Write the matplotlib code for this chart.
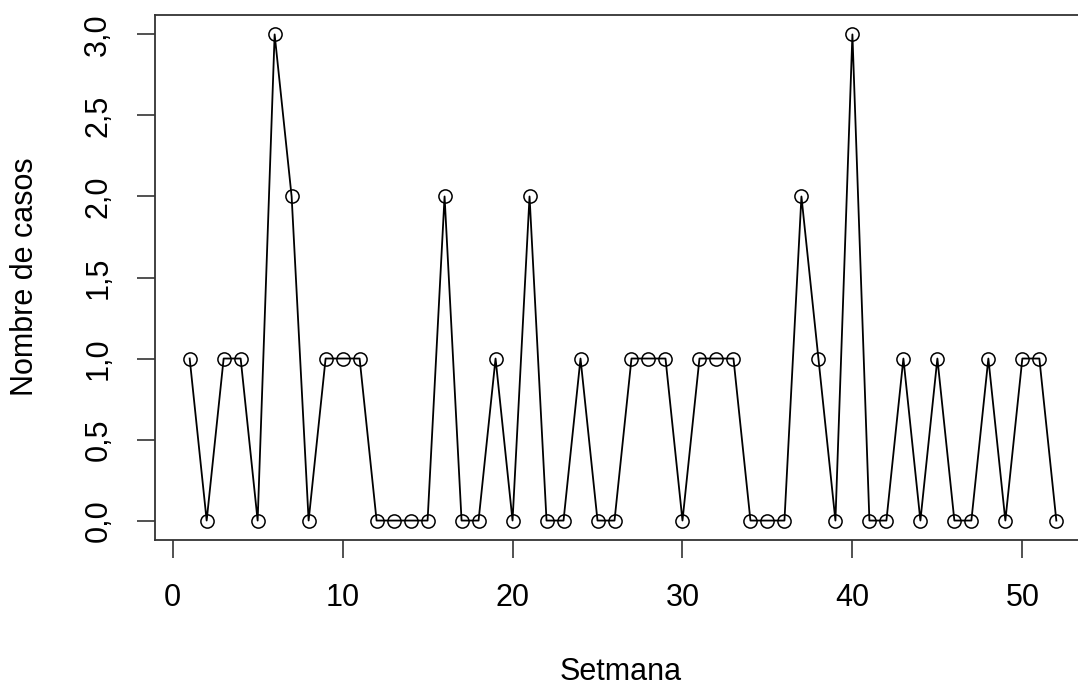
import matplotlib.pyplot as plt
from matplotlib.ticker import FuncFormatter
import numpy as np

setmana = np.arange(1, 53)
casos = [1, 0, 1, 1, 0, 3, 2, 0, 1, 1,
         1, 0, 0, 0, 0, 2, 0, 0, 1, 0,
         2, 0, 0, 1, 0, 0, 1, 1, 1, 0,
         1, 1, 1, 0, 0, 0, 2, 1, 0, 3,
         0, 0, 1, 0, 1, 0, 0, 1, 0, 1,
         1, 0]
yticks = [0, 0.5, 1, 1.5, 2, 2.5, 3]
xticks = [0, 10, 20, 30, 40, 50]

plt.rcParams['font.family'] = ['Liberation Sans', 'DejaVu Sans']

W, H = 1078, 686
fig = plt.figure(figsize=(W / 100, H / 100), dpi=100)
# axes box in pixels (right side runs off the image as in the original)
left, right, top, bottom = 155, 1091, 15, 540
ax = fig.add_axes([left / W, 1 - bottom / H, (right - left) / W, (bottom - top) / H])

ax.plot(setmana, casos, color='black', lw=1.3, marker='o', markersize=9.5,
        markerfacecolor='none', markeredgecolor='black', markeredgewidth=1.1)

ax.set_xlim(-1.04, 54.04)
ax.set_ylim(-0.12, 3.12)
ax.set_xticks(xticks)
ax.set_yticks(yticks)
ax.yaxis.set_major_formatter(FuncFormatter(lambda v, p: f"{v:.1f}".replace('.', ',')))

for s in ax.spines.values():
    s.set_linewidth(1.3)
    s.set_color('#333333')

ax.tick_params(axis='both', length=13, width=1.1, labelsize=22, color='#222222')
ax.tick_params(axis='x', pad=18)
ax.tick_params(axis='y', pad=17)
for lab in ax.get_yticklabels():
    lab.set_rotation(90)
    lab.set_va('center')

fig.text(621 / W, 1 - 672 / H, 'Setmana', ha='center', va='center', fontsize=22)
fig.text(25 / W, 1 - 277 / H, 'Nombre de casos', ha='center', va='center',
         fontsize=22, rotation=90)

fig.savefig('out.png', dpi=100)
